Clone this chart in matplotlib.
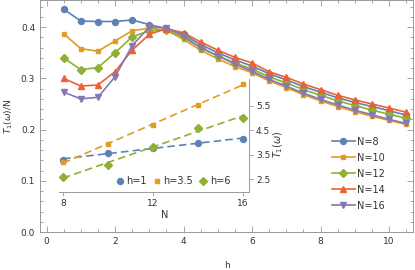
import numpy as np
import matplotlib
matplotlib.use('Agg')
import matplotlib.pyplot as plt
from matplotlib.ticker import MultipleLocator

# donnees principales : T1/N en fonction de h
h = [0.5, 1.0, 1.5, 2.0, 2.5, 3.0, 3.5, 4.0, 4.5, 5.0, 5.5,
     6.0, 6.5, 7.0, 7.5, 8.0, 8.5, 9.0, 9.5, 10.0, 10.5]
t_n8 = [0.435, 0.412, 0.411, 0.411, 0.414, 0.405, 0.397, 0.386, 0.366, 0.350, 0.336,
        0.324, 0.309, 0.297, 0.284, 0.273, 0.262, 0.253, 0.245, 0.237, 0.228]
t_n10 = [0.387, 0.358, 0.353, 0.373, 0.393, 0.398, 0.394, 0.376, 0.355, 0.338, 0.323,
         0.311, 0.295, 0.282, 0.268, 0.256, 0.245, 0.235, 0.226, 0.218, 0.210]
t_n12 = [0.340, 0.317, 0.321, 0.350, 0.381, 0.393, 0.395, 0.380, 0.360, 0.344, 0.330,
         0.318, 0.303, 0.291, 0.278, 0.267, 0.256, 0.247, 0.238, 0.230, 0.222]
t_n14 = [0.300, 0.285, 0.287, 0.313, 0.355, 0.386, 0.397, 0.389, 0.371, 0.355, 0.341,
         0.330, 0.313, 0.302, 0.289, 0.278, 0.267, 0.258, 0.250, 0.242, 0.234]
t_n16 = [0.273, 0.260, 0.263, 0.303, 0.364, 0.400, 0.399, 0.383, 0.360, 0.344, 0.328,
         0.314, 0.298, 0.285, 0.271, 0.259, 0.248, 0.238, 0.229, 0.220, 0.212]
labels_main = ['N=8', 'N=10', 'N=12', 'N=14', 'N=16']

# donnees de l'encart : T1 en fonction de N
n_vals = [8, 10, 12, 14, 16]
t_h1 = [3.30, 3.58, 3.78, 4.00, 4.15]
t_h35 = [3.20, 3.93, 4.73, 5.55, 6.39]
t_h6 = [2.59, 3.09, 3.82, 4.60, 5.02]
labels_inset = ['h=1', 'h=3.5', 'h=6']

colors = ['#5E81B5', '#E19C24', '#8FB032', '#EB6235', '#8778B3']
markers = ['o', 's', 'D', '^', 'v']
msizes = [4.3, 3.4, 3.6, 4.3, 4.3]
gray = '#999999'
txt = '#333333'

fig = plt.figure(figsize=(4.15, 2.7), dpi=100)
ax = fig.add_axes([40 / 415, 38 / 270, 373 / 415, 232 / 270])

series = [t_n8, t_n10, t_n12, t_n14, t_n16]
for s, c, m, ms, lab in zip(series, colors, markers, msizes, labels_main):
    ax.plot(h, s, color=c, marker=m, markersize=ms, lw=1.2, label=lab)

ax.set_xlim(-0.19, 10.7)
ax.set_ylim(0, 0.453)
ax.xaxis.set_major_locator(MultipleLocator(2))
ax.xaxis.set_minor_locator(MultipleLocator(0.5))
ax.yaxis.set_major_locator(MultipleLocator(0.1))
ax.yaxis.set_minor_locator(MultipleLocator(0.02))
ax.yaxis.set_major_formatter(lambda v, p: '%.1f' % v)
ax.tick_params(which='both', direction='in', top=True, right=True, colors=gray,
               labelcolor=txt, labelsize=6.5, width=0.6)
ax.tick_params(which='major', length=4)
ax.tick_params(which='minor', length=2.5)
for sp in ax.spines.values():
    sp.set_color(gray)
    sp.set_linewidth(0.7)
ax.set_xlabel('h', fontsize=6.5, color=txt, labelpad=11)
ax.set_ylabel(r'$T_1(\omega)$/N', fontsize=6.5, color=txt, labelpad=4)

leg = ax.legend(loc='upper left', bbox_to_anchor=(0.765, 0.44), frameon=False,
                fontsize=7, handlelength=2.3, labelspacing=0.62, handletextpad=0.3,
                borderpad=0.2)
for t in leg.get_texts():
    t.set_color(txt)

# encart
ins = fig.add_axes([59 / 415, (270 - 192) / 270, 190 / 415, 113 / 270])
ins.patch.set_alpha(0)
ins_series = [t_h1, t_h35, t_h6]
n_arr = np.array(n_vals)
for s, c, m, ms, lab in zip(ins_series, colors[:3], markers[:3], msizes[:3], labels_inset):
    coef = np.polyfit(n_arr, s, 1)
    ins.plot(n_arr, np.polyval(coef, n_arr), color=c, lw=1.2, dashes=(4.5, 2.5))
    ins.plot(n_vals, s, color=c, marker=m, markersize=ms, ls='none', label=lab)

ins.set_xlim(7.82, 16.27)
ins.set_ylim(1.98, 6.6)
ins.set_xticks([8, 12, 16])
ins.set_yticks([2.5, 3.5, 4.5, 5.5])
ins.spines['top'].set_visible(False)
ins.spines['left'].set_visible(False)
for sp in ['bottom', 'right']:
    ins.spines[sp].set_color(gray)
    ins.spines[sp].set_linewidth(0.7)
ins.yaxis.tick_right()
ins.tick_params(which='both', colors=gray, labelcolor=txt, labelsize=6.5,
                length=3, width=0.6, direction='out', pad=2)
ins.text(12.5, 1.05, 'N', fontsize=7, color=txt, ha='center', va='center')
ins.yaxis.set_label_position('right')
ins.set_ylabel(r'$T_1(\omega)$', fontsize=7, color=txt, rotation=90)
ins.yaxis.set_label_coords(1.12, 0.42)

leg2 = ins.legend(loc='lower center', bbox_to_anchor=(0.60, -0.01), ncol=3,
                  frameon=False, fontsize=7, handlelength=0.8, handletextpad=0.3,
                  columnspacing=0.6, borderpad=0.2)
for t in leg2.get_texts():
    t.set_color(txt)

fig.savefig('out.png', dpi=100)
